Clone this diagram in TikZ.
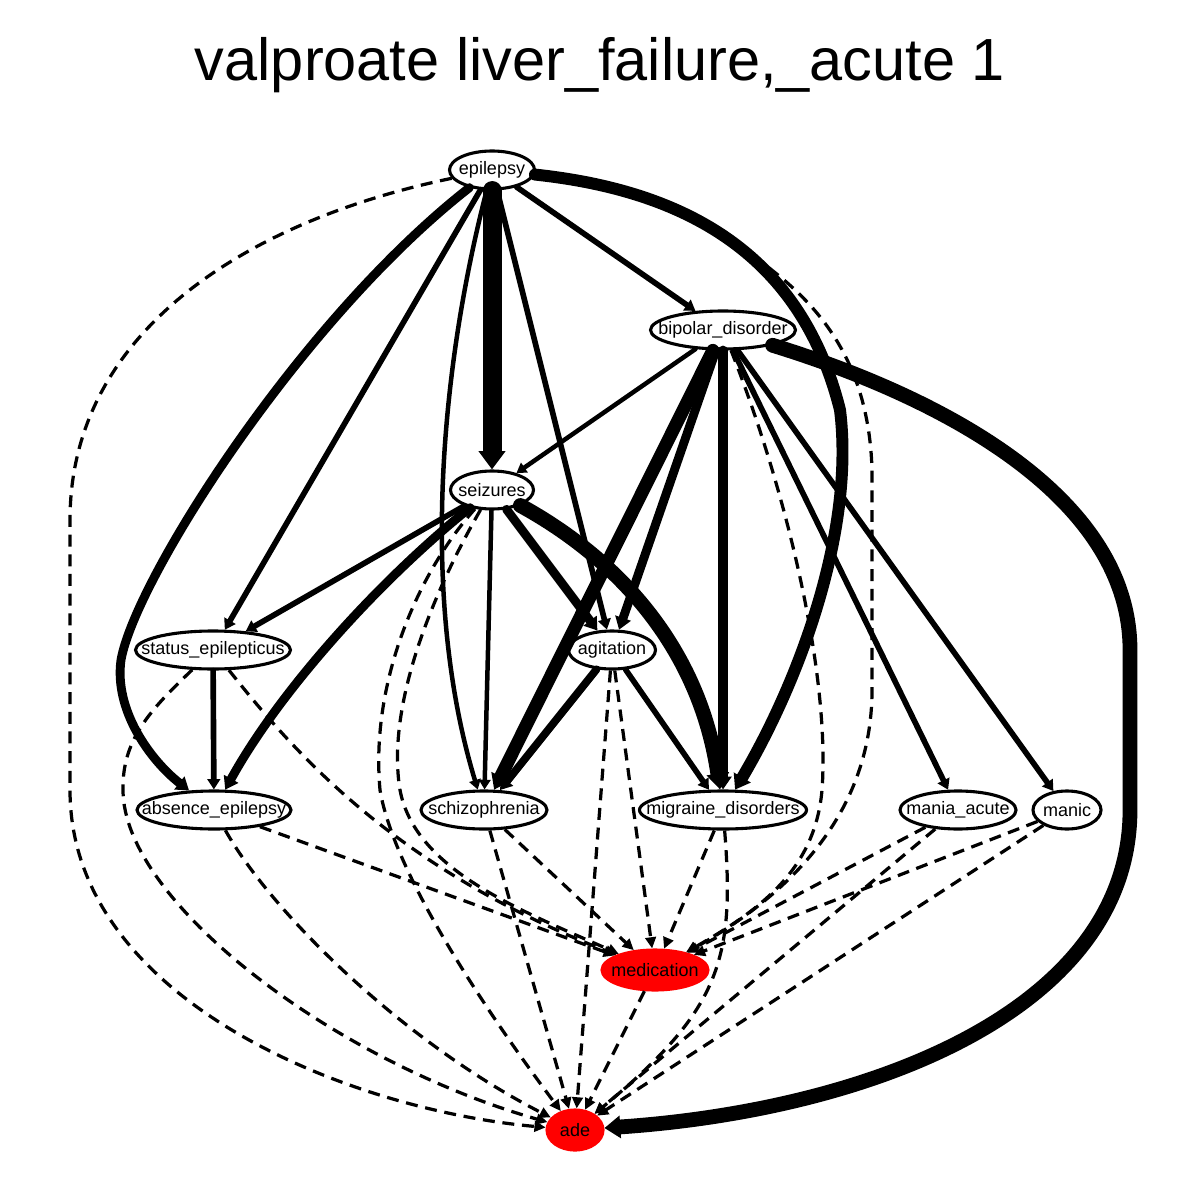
\documentclass[tikz,border=0pt]{standalone}
\usepackage{fontspec}
\setmainfont{Liberation Sans}
\usetikzlibrary{shapes.geometric, arrows.meta}

\newcommand{\nlabel}[1]{\makebox[0pt]{#1}}

\begin{document}
\begin{tikzpicture}[x=0.025cm, y=-0.025cm,
    var/.style={ellipse, draw, line width=2.2pt, fill=white, inner sep=0pt,
      minimum height=0.95cm, font=\fontsize{12.8}{15}\selectfont},
    risk/.style={var, draw=red, fill=red, minimum height=1cm},
    strong/.style={line width=#1, line cap=round,
      -{Triangle[length=5pt 0.6, width=5pt 1.0]}},
    weak/.style={line width=2.3pt, dash pattern=on 8.5pt off 5.5pt,
      -{Triangle[length=8pt, width=7.5pt]}}]
  \useasboundingbox (0,0) rectangle (1200,1200);

  \node[font=\fontsize{42.3}{50}\selectfont, anchor=base] (title) at (600,81)
    {valproate liver\_failure,\_acute 1};

  \node[var, minimum width=2.125cm] (epi) at (492,170) {\nlabel{epilepsy}};
  \node[var, minimum width=3.625cm] (bip) at (723,330) {\nlabel{bipolar\_disorder}};
  \node[var, minimum width=2.075cm] (seiz) at (492,490) {\nlabel{seizures}};
  \node[var, minimum width=3.875cm] (stat) at (213,650) {\nlabel{status\_epilepticus}};
  \node[var, minimum width=2.175cm] (agit) at (612,650) {\nlabel{agitation}};
  \node[var, minimum width=3.85cm] (abs) at (214,810) {\nlabel{absence\_epilepsy}};
  \node[var, minimum width=3.15cm] (schiz) at (484,810) {\nlabel{schizophrenia}};
  \node[var, minimum width=4.175cm] (mig) at (723,810) {\nlabel{migraine\_disorders}};
  \node[var, minimum width=2.9cm] (mania) at (958,810) {\nlabel{mania\_acute}};
  \node[var, minimum width=1.7cm] (manic) at (1067,810) {\nlabel{manic}};
  \node[risk, minimum width=2.65cm] (med) at (655,970) {\nlabel{medication}};
  \node[risk, minimum width=1.4cm] (ade) at (575,1130) {\nlabel{ade}};

  % dashed links
  \draw[weak] (epi) .. controls (250,220) and (70,330) .. (70,520) -- (70,790)
    .. controls (70,1000) and (350,1110) .. (ade);
  \draw[weak] (epi) .. controls (607,183) and (673,201) .. (727,238)
    .. controls (785,278) and (868,330) .. (872,470) -- (872,690)
    .. controls (872,820) and (780,900) .. (med);
  \draw[weak] (bip) .. controls (790,500) and (830,680) .. (822,790)
    .. controls (815,870) and (760,910) .. (med);
  \draw[weak] (seiz) .. controls (420,570) and (370,680) .. (380,790)
    .. controls (395,880) and (500,1030) .. (ade);
  \draw[weak] (seiz) .. controls (440,580) and (385,700) .. (400,790)
    .. controls (415,870) and (520,910) .. (med);
  \draw[weak] (stat) .. controls (150,710) and (122,740) .. (123,790)
    .. controls (123,900) and (330,1060) .. (ade);
  \draw[weak] (stat) .. controls (300,760) and (400,870) .. (med);
  \draw[weak] (abs) -- (med);
  \draw[weak] (abs) .. controls (270,910) and (400,1040) .. (ade);
  \draw[weak] (agit) -- (med);
  \draw[weak] (agit) -- (ade);
  \draw[weak] (schiz) -- (med);
  \draw[weak] (schiz) -- (ade);
  \draw[weak] (mig) -- (med);
  \draw[weak] (mig) .. controls (735,960) and (720,1010) .. (ade);
  \draw[weak] (mania) -- (med);
  \draw[weak] (mania) -- (ade);
  \draw[weak] (manic) -- (med);
  \draw[weak] (manic) -- (ade);
  \draw[weak] (med) -- (ade);

  % solid links
  \draw[strong=13.5pt] (epi) -- (seiz);
  \draw[strong=4pt] (epi) -- (bip);
  \draw[strong=4pt] (epi) -- (stat);
  \draw[strong=4pt] (epi) -- (agit);
  \draw[strong=6.3pt] (epi) .. controls (300,320) and (135,580) .. (121,660)
    .. controls (114,710) and (150,760) .. (abs);
  \draw[strong=3.2pt] (epi) .. controls (440,370) and (420,600) .. (schiz);
  \draw[strong=8.5pt] (epi) .. controls (680,190) and (800,250) .. (840,410)
    .. controls (855,530) and (800,680) .. (mig);

  \draw[strong=3.2pt] (bip) -- (seiz);
  \draw[strong=9.2pt] (bip) -- (schiz);
  \draw[strong=6.3pt] (bip) -- (agit);
  \draw[strong=7pt] (bip) -- (mig);
  \draw[strong=4pt] (bip) -- (mania);
  \draw[strong=4pt] (bip) -- (manic);
  \draw[strong=10.5pt] (bip) .. controls (950,400) and (1130,500) .. (1130,650) -- (1130,810)
    .. controls (1130,1010) and (870,1110) .. (ade);

  \draw[strong=4pt] (seiz) -- (stat);
  \draw[strong=3.2pt] (seiz) -- (schiz);
  \draw[strong=6.3pt] (seiz) -- (agit);
  \draw[strong=6.3pt] (seiz) .. controls (380,580) and (280,690) .. (abs);
  \draw[strong=10.5pt] (seiz) .. controls (620,560) and (700,650) .. (mig);

  \draw[strong=4pt] (stat) -- (abs);
  \draw[strong=5.5pt] (agit) -- (schiz);
  \draw[strong=4pt] (agit) -- (mig);
\end{tikzpicture}
\end{document}
